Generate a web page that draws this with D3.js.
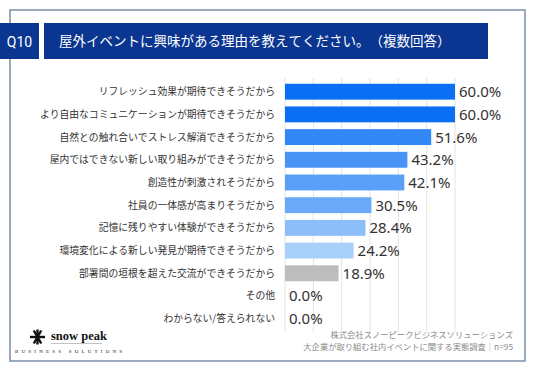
<!DOCTYPE html>
<html><head><meta charset="utf-8">
<script src="https://cdn.jsdelivr.net/npm/d3@7"></script>
<style>
html,body{margin:0;padding:0;background:#fff;}
svg{display:block;font-family:"Noto Sans CJK JP","Noto Sans",sans-serif;}
.nk{font-kerning:none;font-feature-settings:"palt" 0,"kern" 0,"chws" 0,"halt" 0;text-spacing-trim:space-all;}
</style></head>
<body>
<svg id="c" width="536" height="371"></svg>
<script>
const categories = [
  "リフレッシュ効果が期待できそうだから",
  "より自由なコミュニケーションが期待できそうだから",
  "自然との触れ合いでストレス解消できそうだから",
  "屋内ではできない新しい取り組みができそうだから",
  "創造性が刺激されそうだから",
  "社員の一体感が高まりそうだから",
  "記憶に残りやすい体験ができそうだから",
  "環境変化による新しい発見が期待できそうだから",
  "部署間の垣根を超えた交流ができそうだから",
  "その他",
  "わからない/答えられない"
];
const values = [60.0, 60.0, 51.6, 43.2, 42.1, 30.5, 28.4, 24.2, 18.9, 0.0, 0.0];
const barColors = ["#0a6ff5","#0a6ff5","#3188f5","#4894f6","#5a9ff7","#6aa9f8","#8cbefa","#a9d0fb","#bdbdbd","#bdbdbd","#bdbdbd"];
const gridTicks = [0, 10, 20, 30, 40, 50, 60];
const questionNo = "Q10";
const title = "屋外イベントに興味がある理由を教えてください。（複数回答）";
const footerLines = ["株式会社スノーピークビジネスソリューションズ", "大企業が取り組む社内イベントに関する実態調査｜n=95"];

const svg = d3.select("#c");

// frame
svg.append("rect").attr("x",10).attr("y",10).attr("width",515).attr("height",351)
  .attr("fill","none").attr("stroke","#7a8ea6").attr("stroke-width",1.5);

// header
svg.append("rect").attr("x",0).attr("y",23).attr("width",39).attr("height",36).attr("fill","#0a3591");
svg.append("text").attr("x",19.5).attr("y",46.5).attr("text-anchor","middle")
  .attr("fill","#fff").attr("font-size",14).attr("font-family","Roboto,'Noto Sans',sans-serif").text(questionNo);
svg.append("rect").attr("x",44).attr("y",23).attr("width",444).attr("height",36).attr("fill","#0a3591");
svg.append("text").attr("class","nk").attr("x",59).attr("y",46).attr("fill","#fff").attr("font-size",13.5).text(title);

const x = d3.scaleLinear().domain([0,60]).range([285,455]);
const y = d3.scaleBand().domain(categories).range([83.75,326.6]).paddingInner(0.3).paddingOuter(0);

// gridlines
svg.append("g").selectAll("line").data(gridTicks).join("line")
  .attr("x1",d=>x(d)).attr("x2",d=>x(d)).attr("y1",78).attr("y2",332)
  .attr("stroke","#e3e3e3").attr("stroke-width",1);

// bars
svg.append("g").selectAll("rect").data(values).join("rect")
  .attr("x",x(0)).attr("y",(d,i)=>y(categories[i]))
  .attr("width",d=>x(d)-x(0)).attr("height",y.bandwidth())
  .attr("fill",(d,i)=>barColors[i]);

// category labels
svg.append("g").selectAll("text").data(categories).join("text")
  .attr("class","nk")
  .attr("x",275).attr("y",d=>y(d)+y.bandwidth()/2+3.5)
  .attr("text-anchor","end").attr("font-size",9.8).attr("fill","#333").text(d=>d);

// value labels
svg.append("g").selectAll("text").data(values).join("text")
  .attr("x",d=>x(d)+4).attr("y",(d,i)=>y(categories[i])+y.bandwidth()/2+5.5)
  .attr("font-size",15).attr("fill","#333").attr("font-family","'Noto Sans',sans-serif")
  .text(d=>d.toFixed(1)+"%");

// footer text
svg.append("g").selectAll("text").data(footerLines).join("text")
  .attr("class","nk")
  .attr("x",513).attr("y",(d,i)=>338+i*12).attr("text-anchor","end")
  .attr("font-size",8.3).attr("fill","#8a8a8a").text(d=>d);

// logo
const logo = svg.append("g");
const cx = 37.5, cy = 337;
[0,60,120,90].forEach(a=>{
  const r = a*Math.PI/180;
  logo.append("line").attr("x1",cx-7.5*Math.cos(r)).attr("y1",cy-7.5*Math.sin(r))
    .attr("x2",cx+7.5*Math.cos(r)).attr("y2",cy+7.5*Math.sin(r))
    .attr("stroke","#111").attr("stroke-width",2.4);
});
logo.append("text").attr("x",51).attr("y",340).attr("font-size",12.5).attr("font-weight","bold")
  .attr("font-family","'Liberation Serif','DejaVu Serif',serif").attr("fill","#111").text("snow peak");
logo.append("line").attr("x1",51).attr("x2",102).attr("y1",343.5).attr("y2",343.5).attr("stroke","#999").attr("stroke-width",0.6);
logo.append("text").attr("x",15).attr("y",353).attr("font-size",5).attr("letter-spacing",3.2)
  .attr("font-family","'Liberation Serif','DejaVu Serif',serif").attr("fill","#111").text("BUSINESS SOLUTIONS");
</script>
</body></html>
